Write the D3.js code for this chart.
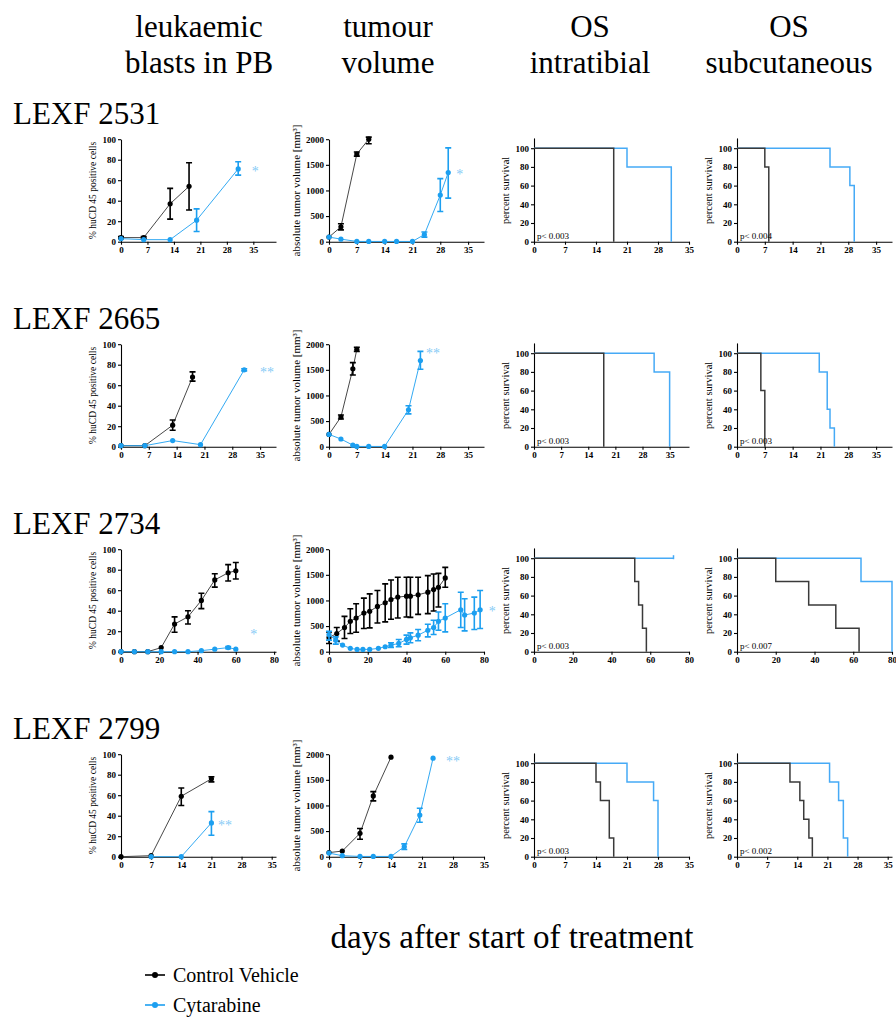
<!DOCTYPE html>
<html>
<head>
<meta charset="utf-8">
<script src="https://cdn.jsdelivr.net/npm/d3@7"></script>
<style>
  body { margin: 0; background: #fff; }
  .axis path, .axis line { stroke: #000; stroke-width: 1.1; }
</style>
</head>
<body>
<div id="chart"></div>
<script>
// ---- labels ----
const models = ["LEXF 2531", "LEXF 2665", "LEXF 2734", "LEXF 2799"];
const columnTitles = [["leukaemic", "blasts in PB"], ["tumour", "volume"], ["OS", "intratibial"], ["OS", "subcutaneous"]];
const yTitles = ["% huCD 45 positive cells", "absolute tumor volume [mm³]", "percent survival", "percent survival"];
const seriesNames = ["Control Vehicle", "Cytarabine"];
const xTitle = "days after start of treatment";

// ---- axes (days shown per panel, tick labels) ----
const dayMax = [[41, 39, 35, 39], [39, 39, 40, 39], [81, 80, 80, 80], [36, 35, 35, 36]];
const weekTicks = [0, 7, 14, 21, 28, 35];
const longTicks = [0, 20, 40, 60, 80];
const pctTicks = [0, 20, 40, 60, 80, 100];
const volTicks = [0, 500, 1000, 1500, 2000];

// ---- leukaemic blasts: [day, mean, low, high] ----
const blastsCtrl2531 = [[0, 4, 3, 5], [6, 4, 3, 5], [13, 37, 22, 52], [18, 54, 31, 77]];
const blastsCyt2531 = [[0, 3], [6, 2], [13, 2], [20, 21, 10, 32], [31, 71, 65, 78]];
const blastsCtrl2665 = [[0, 1], [6, 1], [13, 21, 16, 26], [18, 68, 64, 73]];
const blastsCyt2665 = [[0, 1], [6, 1], [13, 6], [20, 2], [31, 75, 74, 76]];
const blastsCtrl2734 = [[0, 0], [7, 0], [14, 0], [21, 4], [28, 27, 19, 34], [35, 34, 27, 40], [42, 50, 42, 57], [49, 70, 63, 76], [56, 77, 69, 85], [60, 79, 71, 87]];
const blastsCyt2734 = [[0, 0], [7, 0], [14, 0], [21, 0], [28, 0], [35, 0], [42, 1], [49, 2.5], [56, 4, 3, 5], [60, 2.5]];
const blastsCtrl2799 = [[0, 0], [7, 1], [14, 59, 50, 67], [21, 76, 73, 78]];
const blastsCyt2799 = [[7, 0], [14, 0], [21, 33, 21, 44]];

// ---- tumour volume [mm3]: [day, mean, low, high] ----
const volCtrl2531 = [[0, 90], [3, 290, 230, 350], [7, 1710, 1670, 1750], [10, 2000, 1910, 2040]];
const volCyt2531 = [[0, 90], [3, 50], [7, 5], [10, 5], [14, 5], [17, 5], [21, 5], [24, 140, 90, 190], [28, 910, 590, 1230], [30, 1350, 850, 1830]];
const volCtrl2665 = [[0, 240], [3, 580, 540, 620], [6, 1520, 1400, 1640], [7, 1900, 1860, 1940]];
const volCyt2665 = [[0, 240], [3, 150], [6, 30], [7, 5], [10, 5], [14, 5], [20, 720, 640, 800], [23, 1680, 1510, 1860]];
const volCtrl2734 = [[0, 277, 161, 387], [4, 355, 206, 471], [8, 471, 258, 690], [11, 594, 355, 839], [14, 658, 380, 935], [18, 755, 452, 1045], [21, 787, 465, 1129], [25, 884, 561, 1194], [29, 955, 581, 1323], [32, 1019, 632, 1400], [35.5, 1065, 658, 1452], [40, 1084, 677, 1452], [42, 1084, 670, 1452], [46, 1110, 729, 1452], [51, 1161, 742, 1484], [54, 1213, 794, 1516], [56.5, 1258, 871, 1529], [60, 1439, 1258, 1645]];
const volCyt2734 = [[0, 335, 225, 400], [3.5, 225, 148, 290], [7, 129], [11, 65], [14.5, 45], [17.5, 45], [21, 45], [25.5, 65], [29, 97], [32, 129, 84, 174], [36, 161, 97, 239], [40, 239, 148, 323], [42, 271, 174, 368], [46, 323, 213, 432], [51, 419, 290, 535], [54, 471, 335, 613], [56.5, 594, 419, 774], [60, 658, 387, 935], [68, 819, 471, 1161], [70, 716, 406, 1032], [75, 755, 432, 1065], [78, 819, 452, 1194]];
const volCtrl2799 = [[0, 80], [3, 110], [7, 456, 340, 550], [10, 1186, 1090, 1270], [14, 1941]];
const volCyt2799 = [[0, 70], [3, 20], [7, 5], [10, 5], [14, 5], [17, 195, 140, 250], [20.5, 814, 671, 945], [23.5, 1922]];

// ---- significance marks: [day, value, text] ----
const blastStars = [[34.6, 71, "*"], [35, 75, "**"], [67.5, 19, "*"], [22.5, 33, "**"]];
const volStars = [[32, 1366, "*"], [24.4, 1870, "**"], [82.5, 830, "*"], [26.4, 1900, "**"]];

// ---- overall survival, steps: [day, percent] ----
const osItCtrl2531 = [[0, 100], [18, 0]];
const osItCyt2531 = [[0, 100], [21, 80], [31, 0]];
const osScCtrl2531 = [[0, 100], [7, 80], [8, 0]];
const osScCyt2531 = [[0, 100], [23.4, 80], [28.4, 60], [29.5, 0]];
const osItCtrl2665 = [[0, 100], [18, 0]];
const osItCyt2665 = [[0, 100], [31, 80], [35, 0]];
const osScCtrl2665 = [[0, 100], [6, 60], [7, 0]];
const osScCyt2665 = [[0, 100], [20.7, 80], [22.7, 40], [23.4, 20], [24.5, 0]];
const osItCtrl2734 = [[0, 100], [52, 75], [54, 50], [56, 25], [58, 0]];
const osItCyt2734 = [[0, 100], [72, 100]];
const osScCtrl2734 = [[0, 100], [20, 75], [37, 50], [51, 25], [63, 0]];
const osScCyt2734 = [[0, 100], [64, 75], [80, 0]];
const osItCtrl2799 = [[0, 100], [14, 80], [15, 60], [17, 20], [18, 0]];
const osItCyt2799 = [[0, 100], [21, 80], [27, 60], [28, 0]];
const osScCtrl2799 = [[0, 100], [12.3, 80], [14.6, 60], [15.5, 40], [16.7, 20], [17.5, 0]];
const osScCyt2799 = [[0, 100], [21.5, 80], [23.6, 60], [24.7, 20], [25.7, 0]];
const osCensored = [[], [], [[72, 100]], []];
const pIntratibial = ["p< 0.003", "p< 0.003", "p< 0.003", "p< 0.003"];
const pSubcutaneous = ["p< 0.004", "p< 0.003", "p< 0.007", "p< 0.002"];

const blastsSeries = [[blastsCtrl2531, blastsCyt2531], [blastsCtrl2665, blastsCyt2665], [blastsCtrl2734, blastsCyt2734], [blastsCtrl2799, blastsCyt2799]];
const volSeries = [[volCtrl2531, volCyt2531], [volCtrl2665, volCyt2665], [volCtrl2734, volCyt2734], [volCtrl2799, volCyt2799]];
const osItSeries = [[osItCtrl2531, osItCyt2531], [osItCtrl2665, osItCyt2665], [osItCtrl2734, osItCyt2734], [osItCtrl2799, osItCyt2799]];
const osScSeries = [[osScCtrl2531, osScCyt2531], [osScCtrl2665, osScCyt2665], [osScCtrl2734, osScCyt2734], [osScCtrl2799, osScCyt2799]];

// ---- layout ----
const W = 896, H = 1017;
const serif = '"Liberation Serif", "Times New Roman", serif';
const ctrlDot = "#000", ctrlLine = "#333", blue = "#1c9ff0", kmBlue = "#46aaf6", starBlue = "#86cbf6";
const colX = [121, 329, 534, 737];
const rowY = [241.7, 446.7, 651.7, 856.7];
const plotW = 155, plotH = 102.5, osTop = 111;
const titleX = [199, 388, 590, 789];
const yTitleX = [96, 300, 509, 712];
const yTitleSize = [9.5, 11, 10.5, 10.5];

const svg = d3.select("#chart").append("svg").attr("width", W).attr("height", H);

columnTitles.forEach((lines, c) => {
    lines.forEach((t, k) => {
        svg.append("text").attr("x", titleX[c]).attr("y", 37 + k * 36)
            .attr("text-anchor", "middle").attr("font-family", serif).attr("font-size", 31).text(t);
    });
});

function axes(g, x, y, xTicks, yTicks) {
    const fmt = d3.format("d");
    g.append("g").attr("class", "axis").attr("transform", `translate(0,${plotH})`)
        .call(d3.axisBottom(x).tickValues(xTicks).tickFormat(fmt).tickSize(3).tickPadding(2).tickSizeOuter(0))
        .attr("font-family", serif).attr("font-size", 9).attr("font-weight", "bold");
    g.append("g").attr("class", "axis")
        .call(d3.axisLeft(y).tickValues(yTicks).tickFormat(fmt).tickSize(3).tickPadding(2).tickSizeOuter(0))
        .attr("font-family", serif).attr("font-size", 9).attr("font-weight", "bold");
}

function linePanel(g, series, xMax, yMax, xTicks, yTicks, star) {
    const x = d3.scaleLinear().domain([0, xMax]).range([0, plotW]);
    const y = d3.scaleLinear().domain([0, yMax]).range([plotH, 0]);
    axes(g, x, y, xTicks, yTicks);
    const line = d3.line().x(d => x(d[0])).y(d => y(d[1]));
    series.forEach((s, k) => {
        const dot = k ? blue : ctrlDot;
        g.append("path").datum(s).attr("d", line).attr("fill", "none")
            .attr("stroke", k ? blue : ctrlLine).attr("stroke-width", 0.9);
        g.append("g").selectAll("path").data(s.filter(d => d.length > 2)).join("path")
            .attr("d", d => `M${x(d[0])},${y(d[2])}V${y(d[3])}M${x(d[0]) - 3},${y(d[2])}h6M${x(d[0]) - 3},${y(d[3])}h6`)
            .attr("stroke", dot).attr("stroke-width", 1.6).attr("fill", "none");
        g.append("g").selectAll("circle").data(s).join("circle")
            .attr("cx", d => x(d[0])).attr("cy", d => y(d[1])).attr("r", 2.6).attr("fill", dot);
    });
    g.append("text").attr("x", x(star[0])).attr("y", y(star[1]) + 7)
        .attr("font-family", serif).attr("font-size", 14).attr("fill", starBlue).text(star[2]);
}

function survivalPanel(g, series, censored, xMax, xTicks, p) {
    const x = d3.scaleLinear().domain([0, xMax]).range([0, plotW]);
    const y = d3.scaleLinear().domain([0, osTop]).range([plotH, plotH - osTop * 0.935]);
    axes(g, x, y, xTicks, pctTicks);
    const line = d3.line().x(d => x(d[0])).y(d => y(d[1])).curve(d3.curveStepAfter);
    [1, 0].forEach(k => {
        g.append("path").datum(series[k]).attr("d", line).attr("fill", "none")
            .attr("stroke", k ? kmBlue : "#3a3a3a").attr("stroke-width", 1.5);
    });
    g.selectAll("path.censor").data(censored).join("path").attr("class", "censor")
        .attr("d", d => `M${x(d[0])},${y(d[1]) - 3}V${y(d[1]) + 1}`)
        .attr("stroke", kmBlue).attr("stroke-width", 1.5);
    g.append("text").attr("x", 3).attr("y", plotH - 3)
        .attr("font-family", serif).attr("font-size", 9).text(p);
}

models.forEach((name, r) => {
    svg.append("text").attr("x", 13).attr("y", rowY[r] - 118)
        .attr("font-family", serif).attr("font-size", 31).text(name);
    const xTicks = r === 2 ? longTicks : weekTicks;
    const panels = colX.map(cx => svg.append("g").attr("transform", `translate(${cx},${rowY[r] - plotH})`));
    linePanel(panels[0], blastsSeries[r], dayMax[r][0], 100, xTicks, pctTicks, blastStars[r]);
    linePanel(panels[1], volSeries[r], dayMax[r][1], 2000, xTicks, volTicks, volStars[r]);
    survivalPanel(panels[2], osItSeries[r], osCensored[r], dayMax[r][2], xTicks, pIntratibial[r]);
    survivalPanel(panels[3], osScSeries[r], [], dayMax[r][3], xTicks, pSubcutaneous[r]);
    yTitles.forEach((t, c) => {
        svg.append("text")
            .attr("transform", `translate(${yTitleX[c]},${rowY[r] - plotH / 2}) rotate(-90)`)
            .attr("text-anchor", "middle").attr("font-family", serif).attr("font-size", yTitleSize[c]).text(t);
    });
});

svg.append("text").attr("x", 512).attr("y", 948).attr("text-anchor", "middle")
    .attr("font-family", serif).attr("font-size", 33).text(xTitle);

seriesNames.forEach((n, k) => {
    const ly = 975 + k * 30, col = k ? blue : ctrlDot;
    svg.append("line").attr("x1", 145).attr("x2", 165).attr("y1", ly).attr("y2", ly)
        .attr("stroke", col).attr("stroke-width", 1.6);
    svg.append("circle").attr("cx", 155).attr("cy", ly).attr("r", 3).attr("fill", col);
    svg.append("text").attr("x", 173).attr("y", ly + 7)
        .attr("font-family", serif).attr("font-size", 20).text(n);
});
</script>
</body>
</html>
